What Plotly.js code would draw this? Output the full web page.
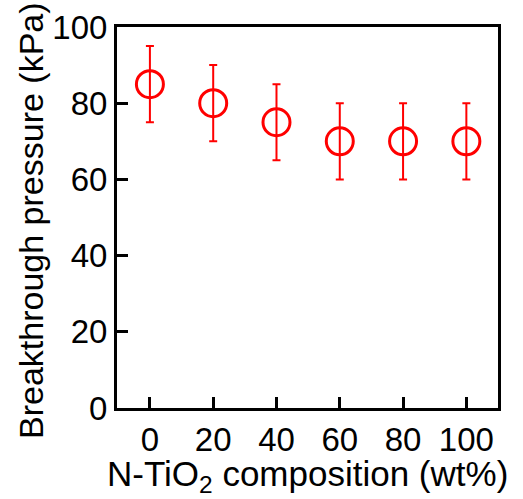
<!DOCTYPE html>
<html><head><meta charset="utf-8">
<script src="https://cdn.plot.ly/plotly-3.0.1.min.js"></script>
<style>body{margin:0}#c{width:523px;height:499px}</style>
</head><body><div id="c"></div>
<script>
const composition = [0, 20, 40, 60, 80, 100];
const pressure = [85, 80, 75, 70, 70, 70];
const pressureErr = [10, 10, 10, 10, 10, 10];
const xTicks = [0, 20, 40, 60, 80, 100];
const yTicks = [0, 20, 40, 60, 80, 100];
const FONT = 'Liberation Sans, Arial, sans-serif';
const trace = {
  x: composition, y: pressure, type: 'scatter', mode: 'markers',
  marker: {symbol: 'circle-open', size: 27, color: 'red', line: {color: 'red', width: 3}},
  error_y: {type: 'data', array: pressureErr, visible: true, color: 'red', thickness: 2, width: 4},
  cliponaxis: false
};
const layout = {
  width: 523, height: 499,
  margin: {l: 117, r: 25, t: 27, b: 91},
  paper_bgcolor: 'white', plot_bgcolor: 'white',
  showlegend: false,
  font: {family: FONT, size: 33, color: 'black'},
  xaxis: {range: [-10.4, 110], tickvals: xTicks, ticktext: xTicks.map(String),
    ticks: 'inside', ticklen: 11, tickwidth: 3, tickcolor: 'black',
    showline: true, linewidth: 3, linecolor: 'black', mirror: true,
    showgrid: false, zeroline: false, tickfont: {size: 33}},
  yaxis: {range: [0, 100], tickvals: yTicks, ticktext: yTicks.map(String),
    ticks: 'inside', ticklen: 11, tickwidth: 3, tickcolor: 'black',
    showline: true, linewidth: 3, linecolor: 'black', mirror: true,
    showgrid: false, zeroline: false, tickfont: {size: 33}},
  annotations: [
    {text: 'N-TiO<sub>2</sub> composition (wt%)', xref: 'paper', yref: 'paper',
     x: 0.5, y: 0, yshift: -68, showarrow: false,
     xanchor: 'center', yanchor: 'middle', font: {size: 35}},
    {text: 'Breakthrough pressure (kPa)', xref: 'paper', yref: 'paper',
     x: 0, y: (408 - 221) / 381, xshift: -(117 - 31), showarrow: false, textangle: -90,
     xanchor: 'center', yanchor: 'middle', font: {size: 34}}
  ]
};
Plotly.newPlot('c', [trace], layout, {staticPlot: true});
</script></body></html>
